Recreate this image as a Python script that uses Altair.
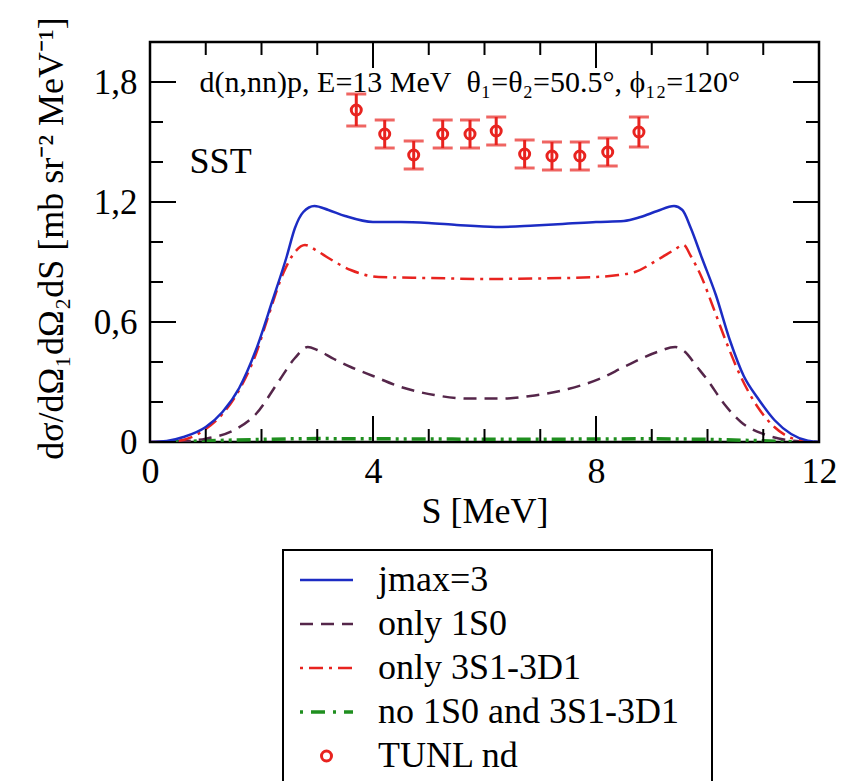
import altair as alt
import pandas as pd

# ---------------- data ----------------
s_jmax = [0.0, 0.3, 0.6, 1.0, 1.3, 1.6, 1.9, 2.2, 2.45, 2.6, 2.75, 2.95, 3.2, 3.5, 4.0, 4.5, 5.0, 5.5,
          6.2, 6.9, 7.5, 8.0, 8.5, 8.8, 9.1, 9.4, 9.55, 9.7, 9.9, 10.15, 10.4, 10.65, 10.9, 11.2, 11.5, 11.8, 12.0]
v_jmax = [0.0, 0.005, 0.025, 0.075, 0.15, 0.27, 0.46, 0.71, 0.925, 1.07, 1.15, 1.18, 1.16, 1.13, 1.10, 1.10,
          1.095, 1.085, 1.075, 1.083, 1.092, 1.10, 1.105, 1.125, 1.155, 1.18, 1.16, 1.07, 0.92, 0.735, 0.51,
          0.33, 0.22, 0.11, 0.04, 0.006, 0.0]

s_3s1 = [0.0, 0.47, 1.0, 1.3, 1.6, 1.9, 2.1, 2.4, 2.6, 2.78, 3.0, 3.2, 3.6, 4.1, 5.0, 6.0, 7.0, 8.0, 8.4,
         8.7, 9.1, 9.4, 9.57, 9.7, 9.9, 10.1, 10.35, 10.6, 10.9, 11.2, 11.6, 12.0]
v_3s1 = [0.0, 0.005, 0.065, 0.14, 0.26, 0.44, 0.61, 0.85, 0.95, 0.985, 0.955, 0.92, 0.86, 0.825, 0.82,
         0.815, 0.818, 0.825, 0.835, 0.85, 0.91, 0.96, 0.985, 0.93, 0.82, 0.675, 0.49, 0.325, 0.175, 0.075,
         0.012, 0.0]

s_1s0 = [0.5, 1.0, 1.5, 1.9, 2.3, 2.6, 2.83, 3.0, 3.3, 3.6, 4.0, 4.5, 5.1, 5.7, 6.3, 6.9, 7.5, 8.1, 8.5,
         9.1, 9.42, 9.6, 9.8, 10.0, 10.3, 10.6, 11.0, 11.5, 12.0]
v_1s0 = [0.0, 0.017, 0.058, 0.14, 0.30, 0.42, 0.475, 0.46, 0.415, 0.375, 0.33, 0.275, 0.235, 0.217, 0.217,
         0.233, 0.265, 0.32, 0.375, 0.45, 0.475, 0.45, 0.38, 0.31, 0.19, 0.10, 0.04, 0.008, 0.0]

s_rest = [0.3, 1.0, 2.0, 3.0, 4.0, 5.0, 6.0, 7.0, 8.0, 9.0, 10.0, 11.0, 11.7]
v_rest = [0.0, 0.006, 0.013, 0.017, 0.016, 0.015, 0.014, 0.014, 0.015, 0.016, 0.013, 0.006, 0.0]

pts_s = [3.70, 4.21, 4.73, 5.25, 5.74, 6.21, 6.72, 7.21, 7.71, 8.21, 8.77]
pts_v = [1.66, 1.54, 1.435, 1.54, 1.54, 1.555, 1.44, 1.43, 1.43, 1.45, 1.55]
pts_err = [0.08, 0.07, 0.07, 0.07, 0.07, 0.07, 0.07, 0.07, 0.07, 0.07, 0.075]

x_major = [0, 4, 8, 12]
x_minor = [1, 2, 3, 5, 6, 7, 9, 10, 11]
y_major = [0, 0.6, 1.2, 1.8]
y_minor = [0.2, 0.4, 0.8, 1.0, 1.4, 1.6]

legend_labels = ["jmax=3", "only 1S0", "only 3S1-3D1", "no 1S0 and 3S1-3D1", "TUNL nd"]

plot_title = "d(n,nn)p, E=13 MeV\u00a0\u00a0θ₁=θ₂=50.5°, ϕ₁₂=120°"
model_label = "SST"
x_title = "S [MeV]"
y_title = "dσ/dΩ₁dΩ₂dS [mb sr⁻² MeV⁻¹]"

# ---------------- style ----------------
FONT = "Liberation Serif"
BLUE = "#1c2cc4"
PURPLE = "#55264a"
RED = "#e8231f"
GREEN = "#1f8f1f"

W, H = 669, 400
xs = alt.Scale(domain=[0, 12], nice=False, zero=False)
ys = alt.Scale(domain=[0, 2.0], nice=False, zero=False)

x_axis = alt.Axis(values=x_major, format="d", ticks=False, tickSize=0, domain=False, grid=False,
                  labelFont=FONT, labelFontSize=36, labelColor="black", labelPadding=40,
                  labelBaseline="alphabetic", labelFlush=False, labelOverlap=False,
                  title=x_title, titleFont=FONT, titleFontSize=36,
                  titleFontWeight="normal", titleColor="black", titleBaseline="alphabetic", titleY=80)
y_axis = alt.Axis(values=y_major, ticks=False, tickSize=0, domain=False, grid=False,
                  labelExpr="datum.value == 0 ? '0' : replace(format(datum.value, '.1f'), '.', ',')",
                  labelFont=FONT, labelFontSize=35, labelColor="black", labelPadding=13,
                  labelFlush=False, labelOverlap=False,
                  title=y_title, titleFont=FONT, titleFontSize=36, titleFontWeight="normal",
                  titleColor="black", titleBaseline="alphabetic", titleX=-88, titleY=196, titleAngle=270)


def X(field):
    return alt.X(field, scale=xs, axis=x_axis)


def Y(field):
    return alt.Y(field, scale=ys, axis=y_axis)


def curve(s, v, color, dash=None, width=2.5):
    df = pd.DataFrame({"S": s, "v": v})
    kw = dict(color=color, strokeWidth=width, interpolate="monotone", clip=True)
    if dash:
        kw["strokeDash"] = dash
    return alt.Chart(df).mark_line(**kw).encode(x=X("S:Q"), y=Y("v:Q"))


c_rest = curve(s_rest, v_rest, GREEN, [14, 5, 3, 5, 3, 5], 3.5)
c_1s0 = curve(s_1s0, v_1s0, PURPLE, [13, 8], 2.5)
c_3s1 = curve(s_3s1, v_3s1, RED, [14, 6, 3, 6], 2.5)
c_jmax = curve(s_jmax, v_jmax, BLUE, None, 2.5)

pts = pd.DataFrame({"S": pts_s, "v": pts_v, "err": pts_err})
pts["lo"] = pts["v"] - pts["err"]
pts["hi"] = pts["v"] + pts["err"]
pbase = alt.Chart(pts)
err_rule = pbase.mark_rule(color=RED, strokeWidth=3).encode(x=X("S:Q"), y=Y("lo:Q"), y2="hi:Q")
cap_lo = pbase.mark_tick(color=RED, orient="horizontal", size=20, thickness=3).encode(x=X("S:Q"), y=Y("lo:Q"))
cap_hi = pbase.mark_tick(color=RED, orient="horizontal", size=20, thickness=3).encode(x=X("S:Q"), y=Y("hi:Q"))
circles = pbase.mark_point(shape="circle", filled=False, color=RED, size=100, strokeWidth=3,
                           opacity=1).encode(x=X("S:Q"), y=Y("v:Q"))

# inward ticks (lengths in data units along the scales)
MAJ_Y, MIN_Y = 0.13, 0.065
MAJ_X, MIN_X = 0.466, 0.233

xt = pd.DataFrame({"t": x_major + x_minor,
                   "len": [MAJ_Y] * len(x_major) + [MIN_Y] * len(x_minor)})
xt["b0"] = 0.0
xt["b1"] = xt["len"]
xt["t0"] = 2.0
xt["t1"] = 2.0 - xt["len"]
yt = pd.DataFrame({"t": y_major + y_minor,
                   "len": [MAJ_X] * len(y_major) + [MIN_X] * len(y_minor)})
yt["l0"] = 0.0
yt["l1"] = yt["len"]
yt["r0"] = 12.0
yt["r1"] = 12.0 - yt["len"]

tick_kw = dict(color="black", strokeWidth=2)
ticks_bottom = alt.Chart(xt).mark_rule(**tick_kw).encode(x=X("t:Q"), y=Y("b0:Q"), y2="b1:Q")
ticks_top = alt.Chart(xt).mark_rule(**tick_kw).encode(x=X("t:Q"), y=Y("t0:Q"), y2="t1:Q")
ticks_left = alt.Chart(yt).mark_rule(**tick_kw).encode(y=Y("t:Q"), x=X("l0:Q"), x2="l1:Q")
ticks_right = alt.Chart(yt).mark_rule(**tick_kw).encode(y=Y("t:Q"), x=X("r0:Q"), x2="r1:Q")

# annotations
ann = pd.DataFrame({"S": [0.89, 0.71], "v": [1.75, 1.343], "txt": [plot_title, model_label]})
title_txt = alt.Chart(ann.iloc[[0]]).mark_text(font=FONT, fontSize=30, align="left",
                                               baseline="alphabetic", color="black").encode(
    x=X("S:Q"), y=Y("v:Q"), text="txt:N")
sst_txt = alt.Chart(ann.iloc[[1]]).mark_text(font=FONT, fontSize=36, align="left",
                                             baseline="alphabetic", color="black").encode(
    x=X("S:Q"), y=Y("v:Q"), text="txt:N")

# ---------------- legend (pixel layout relative to plot origin) ----------------
OX, OY = 150, 42
LEG_LEFT, LEG_TOP, LEG_RIGHT, LEG_BOTTOM = 283, 550, 712, 800
ROW0, ROWSTEP = 580, 44
SYM_X0, SYM_X1, TXT_X = 300, 353, 378

leg_layers = []
leg_df = pd.DataFrame({"label": legend_labels})
leg_layers.append(alt.Chart(leg_df.iloc[[0]]).mark_rect(fill="white", stroke="black", strokeWidth=2).encode(
    x=alt.value(LEG_LEFT - OX), x2=alt.value(LEG_RIGHT - OX),
    y=alt.value(LEG_TOP - OY), y2=alt.value(LEG_BOTTOM - OY)))
styles = [(BLUE, None, 2.5), (PURPLE, [13, 8], 2.5), (RED, [3, 6, 14, 6], 2.5),
          (GREEN, [3, 8, 14, 8], 3.5)]
for i, (col, dash, wd) in enumerate(styles):
    kw = dict(color=col, strokeWidth=wd)
    if dash:
        kw["strokeDash"] = dash
    yy = ROW0 + i * ROWSTEP - OY
    leg_layers.append(alt.Chart(leg_df.iloc[[i]]).mark_rule(**kw).encode(
        x=alt.value(SYM_X0 - OX), x2=alt.value(SYM_X1 - OX), y=alt.value(yy)))
leg_layers.append(alt.Chart(leg_df.iloc[[4]]).mark_point(shape="circle", filled=False, color=RED,
                                                         size=100, strokeWidth=3, opacity=1).encode(
    x=alt.value((SYM_X0 + SYM_X1) / 2 - OX), y=alt.value(ROW0 + 4 * ROWSTEP - OY)))
for i, lab in enumerate(legend_labels):
    leg_layers.append(alt.Chart(leg_df.iloc[[i]]).mark_text(
        font=FONT, fontSize=36, align="left", baseline="middle", color="black").encode(
        x=alt.value(TXT_X - OX), y=alt.value(ROW0 + i * ROWSTEP - OY), text="label:N"))

chart = alt.layer(
    c_rest, c_1s0, c_3s1, c_jmax,
    ticks_bottom, ticks_top, ticks_left, ticks_right,
    err_rule, cap_lo, cap_hi, circles,
    title_txt, sst_txt,
    *leg_layers,
).properties(
    width=W, height=H,
    padding={"left": OX, "top": OY, "right": 843 - OX - W, "bottom": 781 - OY - H},
    autosize=alt.AutoSizeParams(type="none"),
    background="white",
).configure_view(stroke="black", strokeWidth=2.5)

chart.save("out.html", embed_options={"renderer": "svg", "actions": False})
